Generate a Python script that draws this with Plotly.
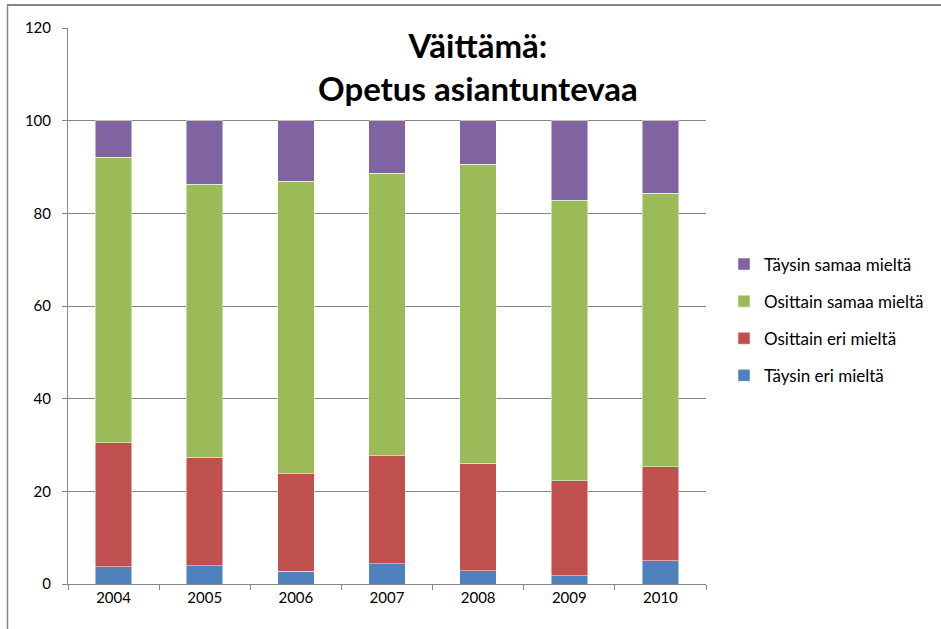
import plotly.graph_objects as go

years = ["2004", "2005", "2006", "2007", "2008", "2009", "2010"]
taysin_eri = [3.7, 3.9, 2.7, 4.4, 2.9, 1.8, 5.0]
osittain_eri = [26.8, 23.5, 21.1, 23.3, 23.2, 20.5, 20.3]
osittain_samaa = [61.6, 58.9, 63.1, 61.0, 64.5, 60.5, 59.0]
taysin_samaa = [7.9, 13.7, 13.1, 11.3, 9.4, 17.2, 15.7]

series = [
    ("Täysin eri mieltä", taysin_eri, "#4F81BD"),
    ("Osittain eri mieltä", osittain_eri, "#C0504D"),
    ("Osittain samaa mieltä", osittain_samaa, "#9BBB59"),
    ("Täysin samaa mieltä", taysin_samaa, "#8064A2"),
]

fig = go.Figure()
for i, (name, vals, col) in enumerate(series):
    fig.add_trace(go.Bar(
        x=years, y=vals, name=name, legendgroup=name,
        legendrank=len(series) - i,
        marker=dict(color=col, line=dict(color="rgba(255,255,255,0.6)", width=0.8)),
    ))

W, H = 941, 629
L, R, T, B = 68, 706, 28, 584
px = lambda x: (x - L) / (R - L)
py = lambda y: (B - y) / (B - T)
fig.update_layout(
    width=W, height=H,
    barmode="stack", bargap=0.6,
    margin=dict(l=L, r=W - R, t=T, b=H - B, pad=0),
    paper_bgcolor="white", plot_bgcolor="white",
    font=dict(family="Lato, 'Open Sans', sans-serif", size=15, color="#000000"),
    showlegend=True,
    legend=dict(
        x=px(724), y=py(320), xanchor="left", yanchor="middle",
        traceorder="grouped", font=dict(size=17),
        tracegroupgap=12, itemwidth=30,
    ),
    xaxis=dict(
        showline=True, linecolor="#868686", linewidth=1,
        ticks="outside", ticklen=5, tickcolor="#868686",
        tickson="boundaries", showgrid=False,
    ),
    yaxis=dict(
        range=[0, 120], dtick=20, tick0=0,
        showline=True, linecolor="#868686", linewidth=1,
        ticks="outside", ticklen=5, tickcolor="#868686",
        showgrid=True, gridcolor="#868686", gridwidth=1,
        zeroline=False, ticklabelstandoff=8,
    ),
    annotations=[dict(
        text="<b>Väittämä:<br>Opetus asiantuntevaa</b>",
        x=px(478), y=py(66),
        xref="paper", yref="paper", xanchor="center", yanchor="middle",
        showarrow=False, align="center",
        font=dict(size=33, family="Lato, 'Open Sans', sans-serif", color="#000000"),
    )],
    shapes=[
        dict(type="line", xref="paper", yref="paper",
             x0=px(7.5), x1=px(7.5), y0=py(650), y1=py(5),
             line=dict(color="#868686", width=1.5), layer="above"),
        dict(type="line", xref="paper", yref="paper",
             x0=px(7), x1=px(941), y0=py(5), y1=py(5),
             line=dict(color="#868686", width=2), layer="above"),
    ],
)

fig.write_html("out.html", config={"displayModeBar": False},
               post_script="document.body.style.margin='0';document.body.style.padding='0';")
